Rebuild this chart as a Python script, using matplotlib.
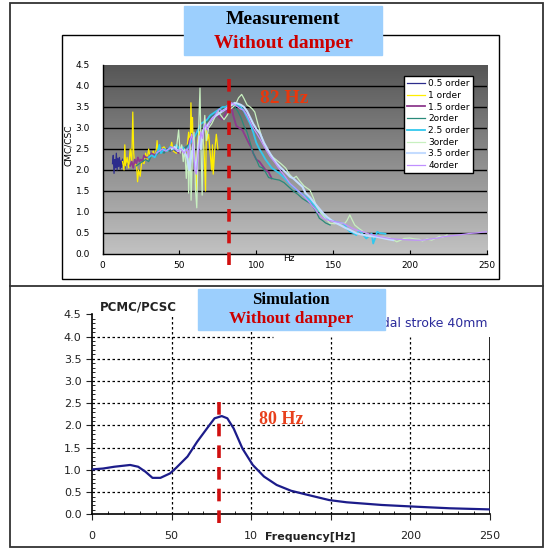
import numpy as np
import matplotlib.pyplot as plt
from matplotlib.patches import Rectangle
from matplotlib.colors import LinearSegmentedColormap

W, H = 544, 548

# measured CMC/CSC per engine order: (frequency [Hz], ratio)
order_05 = [(6.5, 2.15), (7, 2.35), (7.5, 1.92), (8, 2.25), (8.5, 2.05), (9, 2.4), (9.5, 2.0),
            (10, 2.28), (10.5, 2.08), (11, 2.3), (11.5, 2.02), (12, 2.22), (12.5, 2.06),
            (13, 2.26), (13.5, 2.1), (14, 2.18), (14.5, 2.02), (15, 2.2), (15.5, 2.12), (16, 2.16)]
order_1 = [(13, 2.2), (14, 2.0), (14.5, 2.6), (15, 2.1), (16, 2.3), (17, 2.05), (18, 2.5), (19, 2.15),
           (19.7, 3.38), (20.3, 2.4), (21, 2.1), (22, 2.2), (22.8, 1.72), (23.5, 2.0), (24.5, 1.85),
           (25.5, 2.2), (27, 2.15), (28, 2.4), (29, 2.25), (30, 2.5), (31, 2.3), (32, 2.35), (33, 2.45),
           (34, 2.3), (35, 2.5), (35.5, 2.7), (36, 2.45), (38, 2.5), (40, 2.55), (42, 2.45), (44, 2.5),
           (45, 2.66), (46, 2.45), (48, 2.4), (50, 2.5), (52, 2.45), (54, 2.4), (55, 2.55), (56, 2.9),
           (57, 2.5), (57.5, 3.6), (58, 2.9), (58.5, 3.25), (59, 2.6), (60, 2.4), (61, 1.52), (61.5, 2.3),
           (62, 2.7), (63, 3.0), (64, 2.6), (65, 2.8), (66, 2.5), (67, 1.5), (67.5, 2.95), (68, 2.7),
           (69, 2.85), (70, 2.4), (71, 2.0), (71.5, 2.6), (72, 1.9), (73, 2.48), (74, 2.85), (75, 2.5)]
order_15 = [(18, 2.1), (19, 2.2), (20, 2.05), (21, 2.25), (22, 2.15), (23, 2.3), (24, 2.2), (25, 2.25),
            (26, 2.2), (27, 2.35), (28, 2.3), (30, 2.3), (32, 2.4), (34, 2.35), (36, 2.45), (38, 2.5),
            (40, 2.45), (42, 2.5), (44, 2.45), (46, 2.5), (48, 2.45), (50, 2.4), (52, 2.45), (54, 2.5),
            (56, 2.6), (57, 2.75), (58, 2.8), (59, 2.7), (60, 2.85), (62, 2.95), (64, 3.05), (66, 3.1),
            (68, 3.25), (70, 3.2), (72, 3.3), (74, 3.35), (76, 3.25), (78, 3.2), (80, 3.35), (82, 3.5),
            (83.5, 3.55), (85, 3.3), (87, 3.05), (89, 3.0), (91, 2.95), (93, 2.8), (95, 2.65),
            (96.5, 2.55), (98, 2.4), (100, 2.25), (102, 2.2), (104, 2.1), (106, 2.0), (108, 1.95),
            (110, 1.8)]
order_2 = [(22, 2.1), (24, 2.15), (26, 2.2), (28, 2.25), (30, 2.2), (32, 2.35), (34, 2.3), (36, 2.4),
           (38, 2.45), (40, 2.4), (42, 2.5), (44, 2.45), (46, 2.5), (48, 2.45), (50, 2.5), (52, 2.45),
           (54, 2.55), (56, 2.6), (58, 2.7), (60, 2.8), (62, 2.9), (64, 3.0), (66, 3.1), (68, 3.15),
           (70, 3.25), (72, 3.3), (74, 3.35), (76, 3.4), (78, 3.45), (80, 3.45), (82, 3.5), (84, 3.55),
           (86, 3.5), (88, 3.4), (90, 3.25), (92, 3.05), (94, 2.9), (96, 2.65), (98, 2.4), (100, 2.25),
           (102, 2.08), (104, 2.05), (106, 1.95), (108, 1.82), (110, 1.8), (112, 1.78), (115, 1.76),
           (118, 1.7), (121, 1.6), (124, 1.5), (127, 1.42), (130, 1.32), (133, 1.25), (136, 1.18),
           (139, 1.0), (141, 0.85), (143, 0.8), (145, 0.74), (148, 0.69)]
order_25 = [(30, 2.3), (32, 2.35), (34, 2.3), (36, 2.45), (37, 2.6), (38, 2.4), (40, 2.5), (42, 2.45),
            (44, 2.55), (46, 2.5), (48, 2.6), (50, 2.5), (52, 2.55), (54, 2.45), (56, 2.55), (58, 2.7),
            (60, 2.8), (62, 2.95), (64, 3.1), (66, 3.15), (68, 3.2), (70, 3.3), (72, 3.35), (74, 3.4),
            (76, 3.45), (78, 3.5), (80, 3.5), (82, 3.55), (84, 3.55), (86, 3.57), (88, 3.55), (90, 3.5),
            (92, 3.4), (94, 3.25), (96, 3.1), (98, 2.9), (100, 2.65), (102, 2.5), (104, 2.38),
            (106, 2.25), (108, 2.15), (110, 2.05), (112, 2.0), (115, 1.92), (118, 1.82), (121, 1.7),
            (124, 1.6), (127, 1.5), (130, 1.42), (133, 1.33), (135, 1.28), (138, 1.15), (141, 1.02),
            (143.5, 0.93), (146, 0.85), (149, 0.8), (152, 0.76), (155, 0.74), (157, 0.72), (159, 0.6),
            (161, 0.53), (163, 0.5), (165, 0.45), (167, 0.57), (169, 0.48), (171.5, 0.37), (173, 0.42),
            (175, 0.49), (176, 0.25), (177.5, 0.4), (178.6, 0.53), (180, 0.5), (182.5, 0.49), (184, 0.48)]
order_3 = [(48, 2.5), (49.5, 2.95), (50.5, 2.4), (51.5, 2.6), (52.5, 2.2), (53.5, 2.5), (54.5, 1.8),
           (55.5, 2.5), (56, 1.45), (57, 2.6), (57.6, 1.28), (58.5, 2.4), (59.5, 2.9), (60.5, 1.5),
           (61.3, 1.1), (62, 2.2), (62.7, 3.2), (63.4, 3.95), (64, 2.6), (64.8, 1.4), (65.5, 2.8),
           (66.5, 3.3), (67.5, 2.7), (69, 3.0), (71, 3.1), (73, 3.25), (75, 3.4), (77, 3.3), (79, 3.2),
           (81, 3.3), (83, 3.45), (85, 3.5), (87, 3.6), (88.5, 3.72), (90.5, 3.8), (92, 3.7), (94, 3.55),
           (96, 3.5), (97.5, 3.45), (99, 3.38), (101, 3.1), (103, 2.85), (105, 2.6), (107, 2.48),
           (109, 2.38), (111, 2.3), (113, 2.24), (116, 2.15), (119, 2.05), (121.5, 1.9), (124, 1.8),
           (126, 1.85), (128, 1.75), (131, 1.62), (134.9, 1.52), (137, 1.35), (139.2, 1.13), (142, 0.98),
           (145, 0.85), (147.9, 0.73), (151, 0.72), (154, 0.74), (157.6, 0.73), (159, 0.8), (160.8, 0.93),
           (162.5, 0.8), (164, 0.69), (167, 0.6), (170, 0.52), (173.8, 0.45), (177, 0.43), (180, 0.41),
           (183, 0.4), (186.8, 0.38), (189, 0.34), (191.3, 0.29), (194, 0.33), (196, 0.37), (199.8, 0.38),
           (203, 0.36), (206, 0.35), (208, 0.31), (211, 0.36), (214, 0.33), (217, 0.38), (219, 0.42),
           (221, 0.4), (224, 0.45)]
order_35 = [(45, 2.5), (47, 2.55), (49, 2.45), (51, 2.5), (53, 2.45), (55, 2.3), (56.5, 2.0), (58, 2.4),
            (59, 2.6), (60, 2.2), (61, 1.95), (62, 2.5), (63, 2.8), (64, 2.5), (65, 2.9), (66, 3.0),
            (68, 3.05), (70, 3.15), (72, 3.25), (74, 3.3), (76, 3.35), (78, 3.4), (80, 3.45), (82, 3.5),
            (84, 3.55), (86, 3.6), (88, 3.58), (90, 3.55), (92, 3.5), (94, 3.4), (96, 3.25), (98, 3.1),
            (100, 2.98), (102.4, 2.87), (105, 2.65), (108, 2.45), (110.5, 2.3), (113.2, 2.16),
            (116, 2.05), (119, 1.95), (121.9, 1.84), (124, 1.8), (127, 1.7), (130, 1.6), (132, 1.45),
            (134.9, 1.35), (137, 1.25), (140, 1.12), (143.5, 0.97), (146, 0.88), (149, 0.8),
            (152.2, 0.73), (155, 0.68), (158, 0.62), (161, 0.57), (165.2, 0.49), (169, 0.46),
            (173, 0.43), (178.2, 0.41), (182, 0.38), (186, 0.35), (189, 0.33)]
order_4 = [(35, 2.4), (37, 2.45), (39, 2.5), (41, 2.45), (43, 2.5), (45, 2.55), (47, 2.5), (49, 2.45),
           (51, 2.5), (53, 2.4), (55, 2.5), (56, 2.3), (57, 2.7), (58, 2.85), (59, 2.6), (60, 2.0),
           (61, 1.9), (62, 2.3), (63, 2.6), (64, 2.9), (65, 2.75), (66, 3.0), (67, 3.1), (68, 2.95),
           (70, 3.15), (72, 3.25), (74, 3.35), (76, 3.45), (78, 3.4), (80, 3.45), (82, 3.5), (84, 3.6),
           (86, 3.55), (88, 3.5), (90, 3.45), (91.6, 3.43), (94, 3.3), (96, 3.15), (98, 3.0),
           (100.3, 2.87), (103, 2.7), (106, 2.5), (109, 2.32), (112, 2.18), (115, 2.02), (118, 1.88),
           (121.9, 1.68), (125, 1.58), (128, 1.48), (131, 1.38), (134, 1.25), (137, 1.12), (140, 0.98),
           (143.5, 0.85), (147, 0.8), (150, 0.78), (153, 0.76), (156.5, 0.73), (160, 0.66), (163, 0.6),
           (166, 0.56), (169.5, 0.53), (173, 0.48), (177, 0.44), (181, 0.41), (186.8, 0.37), (192, 0.35),
           (197, 0.34), (203, 0.33), (208.4, 0.33), (214, 0.36), (218, 0.38), (221.4, 0.41), (226, 0.43),
           (231, 0.45), (235, 0.47), (238.8, 0.49), (243, 0.5), (247, 0.52), (250, 0.53)]

order_data = [order_05, order_1, order_15, order_2, order_25, order_3, order_35, order_4]
order_labels = ['0.5 order', '1 order', '1.5 order', '2order', '2.5 order', '3order', '3.5 order', '4order']
order_colors = ['#2c2c8c', '#ffee00', '#8e3a8e', '#2a8a7a', '#33c8ee', '#c8f0c0', '#c4dcff', '#c090ff']
order_widths = [0.9, 0.9, 1.3, 0.9, 1.3, 0.9, 1.5, 0.9]

# simulated PCMC/PCSC, pedal stroke 40 mm
sim_freq = [0, 7, 14, 24, 29, 33.5, 38, 43, 49, 53, 60, 66, 73, 77, 81.5, 85, 89, 94.5,
            101, 108, 116, 125, 134, 149, 160, 182, 204, 225, 250]
sim_ratio = [1.01, 1.03, 1.07, 1.11, 1.07, 0.96, 0.82, 0.82, 0.92, 1.05, 1.30, 1.63, 1.97, 2.16,
             2.21, 2.16, 1.93, 1.48, 1.11, 0.85, 0.66, 0.53, 0.45, 0.32, 0.27, 0.21, 0.17, 0.135, 0.11]

peak_meas = 82
peak_sim = 80
ratio_ticks = [0.0, 0.5, 1.0, 1.5, 2.0, 2.5, 3.0, 3.5, 4.0, 4.5]
freq_ticks = [0, 50, 100, 150, 200, 250]
sim_xlabels = ['0', '50', '10', '', '200', '250']

fig = plt.figure(figsize=(W / 100, H / 100), dpi=100)


def px_axes(l, t, r, b, **kw):
    # place an axes using pixel edges measured from the top-left corner
    return fig.add_axes([l / W, 1 - b / H, (r - l) / W, (b - t) / H], **kw)


def px_layer(z):
    lay = px_axes(0, 0, W, H, zorder=z)
    lay.set_xlim(0, W)
    lay.set_ylim(H, 0)
    lay.axis('off')
    return lay


# frames
bg = px_layer(0)
bg.add_patch(Rectangle((9.5, 3), 533.5, 544, fill=False, ec='#333333', lw=1.3))
bg.plot([9.5, 543], [285.5, 285.5], color='#333333', lw=1.3)
bg.add_patch(Rectangle((61.5, 35), 437.5, 244, fill=False, ec='black', lw=1))
bg.text(68, 145.5, 'CMC/CSC', rotation=90, ha='center', va='center', fontsize=6.5,
        family=['Liberation Sans Narrow', 'DejaVu Sans'])
bg.text(138.5, 306.7, 'PCMC/PCSC', ha='center', va='center', fontsize=8.5,
        fontweight='bold', color='#222222')
bg.text(310, 537.3, 'Frequency[Hz]', ha='center', va='center', fontsize=8,
        fontweight='bold', color='#222222')

# ---- measurement ----
ax1 = px_axes(102.5, 65, 487, 254, zorder=1)
grad = np.linspace(0, 1, 256).reshape(-1, 1)
cmap = LinearSegmentedColormap.from_list('bg', ['#c2c2c2', '#565656'])
ax1.imshow(grad, extent=[0, 250, 0, 4.5], aspect='auto', cmap=cmap, origin='lower', zorder=0)
for v in ratio_ticks[1:-1]:
    ax1.axhline(v, color='black', lw=1, zorder=1)

for data, lab, col, lw in zip(order_data, order_labels, order_colors, order_widths):
    f, r = np.array(data).T
    ax1.plot(f, r, color=col, lw=lw, label=lab, zorder=2)

ax1.plot([peak_meas, peak_meas], [-0.26, 4.38], color='#d01010', lw=2.6,
         dashes=(3.5, 2.5), clip_on=False, zorder=4)
ax1.text(118, 3.71, f'{peak_meas} Hz', ha='center', va='center', fontsize=14,
         fontweight='bold', family='Liberation Serif', color='#e8380d', zorder=4)
ax1.text(121, -0.107, 'Hz', ha='center', va='center', fontsize=6.5, clip_on=False)

ax1.set_xlim(0, 250)
ax1.set_ylim(0, 4.5)
ax1.set_xticks(freq_ticks)
ax1.set_yticks(ratio_ticks)
ax1.set_yticklabels([f'{v:.1f}' for v in ratio_ticks])
ax1.tick_params(axis='x', direction='in', length=3, labelsize=6.5, pad=5)
ax1.tick_params(axis='y', length=0, labelsize=6.5, pad=9)
for s in ['top', 'right']:
    ax1.spines[s].set_visible(False)
for s in ['left', 'bottom']:
    ax1.spines[s].set_linewidth(1)

leg = ax1.legend(loc='upper right', bbox_to_anchor=(0.9636, 0.942), borderaxespad=0,
                 fontsize=6.5, fancybox=False, edgecolor='black', framealpha=1,
                 labelspacing=0.3, handlelength=2.0, handletextpad=0.4, borderpad=0.35)
leg.get_frame().set_linewidth(1)
leg.set_zorder(5)

# ---- simulation ----
ax2 = px_axes(92, 314.3, 490, 514.3, zorder=1)
grid_kw = dict(color='black', lw=0.9, linestyles=(0, (2, 2)), zorder=1)
ax2.hlines(ratio_ticks[1:-2], 0, 250, **grid_kw)
ax2.hlines(4.0, 0, 114, **grid_kw)
ax2.vlines([50, 100], 0, 4.5, **grid_kw)
ax2.vlines([150, 200], 0, 3.98, **grid_kw)
ax2.vlines(250, 0, 3.98, color='black', lw=1.2, zorder=1)

ax2.plot(sim_freq, sim_ratio, color='#1c1c8a', lw=1.6, zorder=3)
ax2.plot([peak_sim, peak_sim], [-0.2, 2.72], color='#d01010', lw=2.6,
         dashes=(3.5, 2.5), clip_on=False, zorder=4)
ax2.text(119, 2.14, f'{peak_sim} Hz', ha='center', va='center', fontsize=13,
         fontweight='bold', family='Liberation Serif', color='#e8401c', zorder=4)
ax2.text(248.7, 4.3, 'Pedal stroke 40mm', ha='right', va='center', fontsize=9,
         color='#2b2b9b', clip_on=False)

ax2.set_xlim(0, 250)
ax2.set_ylim(0, 4.5)
ax2.set_xticks(freq_ticks)
ax2.set_xticklabels(sim_xlabels)
ax2.set_xticks(np.arange(0, 251, 10), minor=True)
ax2.set_yticks(ratio_ticks)
ax2.set_yticklabels([f'{v:.1f}' for v in ratio_ticks])
ax2.set_yticks(np.arange(0, 4.51, 0.1), minor=True)
ax2.tick_params(axis='both', which='major', direction='out', length=4, labelsize=8,
                colors='#222222')
ax2.tick_params(axis='x', which='major', pad=8)
ax2.tick_params(axis='both', which='minor', direction='in', length=2.5)
for s in ['top', 'right']:
    ax2.spines[s].set_visible(False)
for s in ['left', 'bottom']:
    ax2.spines[s].set_linewidth(1.2)

# title boxes on top of everything
top = px_layer(3)
top.add_patch(Rectangle((184.4, 6), 197.2, 49, color='#9ccffd'))
top.text(283, 20, 'Measurement', ha='center', va='center', fontsize=14,
         fontweight='bold', family='Liberation Serif', color='black')
top.text(283, 43.3, 'Without damper', ha='center', va='center', fontsize=14,
         fontweight='bold', family='Liberation Serif', color='#cc0000')
top.add_patch(Rectangle((197.6, 289), 187.1, 41, color='#9ccffd'))
top.text(291, 300, 'Simulation', ha='center', va='center', fontsize=12,
         fontweight='bold', family='Liberation Serif', color='black')
top.text(291, 319.3, 'Without damper', ha='center', va='center', fontsize=12.5,
         fontweight='bold', family='Liberation Serif', color='#cc0000')

fig.savefig('out.png', dpi=100)
